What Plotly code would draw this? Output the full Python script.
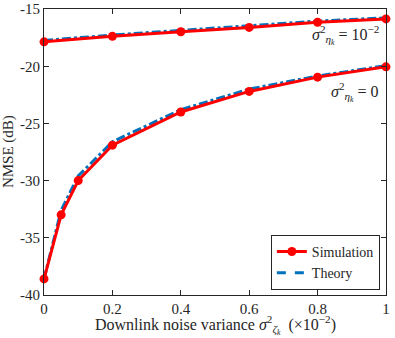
import plotly.graph_objects as go

# ── data ─────────────────────────────────────────────────────────────────────
x_hi = [0, 0.2, 0.4, 0.6, 0.8, 1.0]
sim_hi = [-17.86, -17.38, -16.98, -16.6, -16.15, -15.86]
theory_hi = [-17.75, -17.26, -16.86, -16.47, -16.05, -15.76]

x_lo = [0, 0.05, 0.1, 0.2, 0.4, 0.6, 0.8, 1.0]
sim_lo = [-38.6, -33.0, -30.0, -26.9, -24.0, -22.2, -20.95, -20.05]
theory_lo = [-38.6, -32.6, -29.6, -26.6, -23.8, -22.0, -20.85, -19.95]

x_ticks = [0, 0.2, 0.4, 0.6, 0.8, 1]
x_labels = ["0", "0.2", "0.4", "0.6", "0.8", "1"]
y_ticks = [-40, -35, -30, -25, -20, -15]
y_labels = ["-40", "-35", "-30", "-25", "-20", "-15"]
# ─────────────────────────────────────────────────────────────────────────────

RED = "#ff0000"
BLUE = "rgb(0,114,189)"
INK = "#262626"
FONT = "Liberation Serif"

fig = go.Figure()

# theory first so simulation is drawn on top
for xs, ys in [(x_hi, theory_hi), (x_lo, theory_lo)]:
    fig.add_trace(go.Scatter(x=xs, y=ys, mode="lines", showlegend=False, cliponaxis=False,
                             line=dict(color=BLUE, width=3, dash="dashdot")))
for xs, ys in [(x_hi, sim_hi), (x_lo, sim_lo)]:
    fig.add_trace(go.Scatter(x=xs, y=ys, mode="lines+markers", showlegend=False, cliponaxis=False,
                             line=dict(color=RED, width=3),
                             marker=dict(color=RED, size=9)))

# legend-only entries
fig.add_trace(go.Scatter(x=[None], y=[None], mode="lines+markers", name="Simulation",
                         line=dict(color=RED, width=3), marker=dict(color=RED, size=9)))
fig.add_trace(go.Scatter(x=[None], y=[None], mode="lines", name="Theory",
                         line=dict(color=BLUE, width=3, dash="dash")))

fig.add_annotation(x=0.985, y=-16.0, xanchor="right", yanchor="top", showarrow=False,
                   text="<i>σ</i><sup>2</sup><sub><i>η</i><sub><i>k</i></sub></sub> = 10<sup>−2</sup>",
                   font=dict(family=FONT, size=16, color=INK))
fig.add_annotation(x=0.985, y=-21.0, xanchor="right", yanchor="top", showarrow=False,
                   text="<i>σ</i><sup>2</sup><sub><i>η</i><sub><i>k</i></sub></sub> = 0",
                   font=dict(family=FONT, size=16, color=INK))

# axis titles as annotations so their place is fixed
fig.add_annotation(xref="paper", yref="paper", x=0.5, y=-0.105, xanchor="center", yanchor="middle",
                   showarrow=False,
                   text="Downlink noise variance <i>σ</i><sup>2</sup><sub><i>ζ<sub>k</sub></i></sub>&nbsp;&nbsp;(×10<sup>−2</sup>)",
                   font=dict(family=FONT, size=16, color=INK))
fig.add_annotation(xref="paper", yref="paper", x=-0.105, y=0.5, xanchor="center", yanchor="middle",
                   showarrow=False, textangle=-90, text="NMSE (dB)",
                   font=dict(family=FONT, size=15, color=INK))

axis_common = dict(showgrid=False, zeroline=False, showline=True, linecolor=INK,
                   linewidth=1.2, mirror="ticks", ticks="inside", ticklen=5,
                   tickcolor=INK, automargin=False,
                   tickfont=dict(family=FONT, size=15, color=INK))

fig.update_xaxes(range=[-0.0001, 1.0001], tickvals=x_ticks, ticktext=x_labels, **axis_common)
fig.update_yaxes(range=[-40.01, -14.99], tickvals=y_ticks, ticktext=y_labels, **axis_common)

fig.update_layout(
    width=395, height=338,
    margin=dict(l=44, r=9, t=9, b=43),
    plot_bgcolor="white", paper_bgcolor="white",
    legend=dict(x=0.982, y=0.018, xanchor="right", yanchor="bottom",
                bordercolor=INK, borderwidth=1, bgcolor="white",
                font=dict(family=FONT, size=14, color=INK),
                tracegroupgap=0, itemwidth=30),
)

# page body has an 8px default margin; drop it so the figure sits at the window corner
fig.write_html("out.html", config={"displayModeBar": False},
               post_script="document.body.style.margin='0';")
